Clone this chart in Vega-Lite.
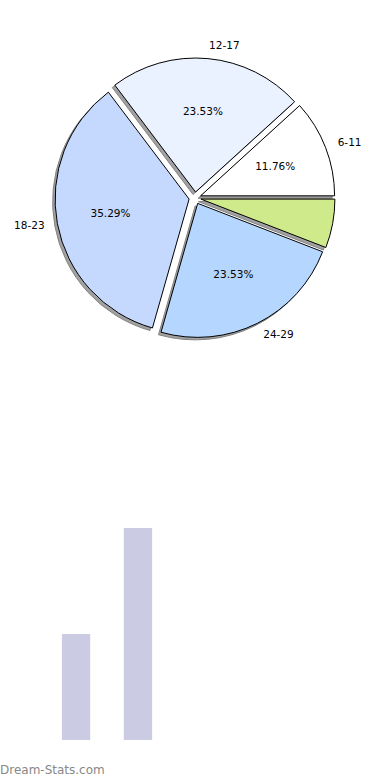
{
  "$schema": "https://vega.github.io/schema/vega-lite/v6.json",
  "padding": 0,
  "spacing": 132,
  "config": {"view": {"stroke": null}, "font": "DejaVu Sans"},
  "vconcat": [
    {
      "width": 390,
      "height": 396,
      "data": {"values": [
        {"age": "6-11", "count": 2, "pct": "11.76%", "i": 1},
        {"age": "12-17", "count": 4, "pct": "23.53%", "i": 2},
        {"age": "18-23", "count": 6, "pct": "35.29%", "i": 3},
        {"age": "24-29", "count": 4, "pct": "23.53%", "i": 4},
        {"age": "other", "count": 1, "pct": "", "i": 5}
      ]},
      "encoding": {
        "theta": {"field": "count", "type": "quantitative", "stack": true, "scale": {"range": [1.5708, -4.7124]}},
        "order": {"field": "i", "type": "quantitative"}
      },
      "layer": [
        {
          "mark": {"type": "arc", "outerRadius": 134, "fill": "#8a8a8a", "stroke": "#666", "strokeWidth": 1, "opacity": 0.8,
            "x": {"expr": "concat_0_width/2 - 2.5 + 6*cos(PI*(datum.count_start+datum.count_end)/17)"},
            "y": {"expr": "concat_0_height/2 + 2.5 - 6*sin(PI*(datum.count_start+datum.count_end)/17)"}},
          "encoding": {"detail": {"field": "age"}}
        },
        {
          "mark": {"type": "arc", "outerRadius": 134, "stroke": "#000", "strokeWidth": 1,
            "x": {"expr": "concat_0_width/2 + 6*cos(PI*(datum.count_start+datum.count_end)/17)"},
            "y": {"expr": "concat_0_height/2 - 6*sin(PI*(datum.count_start+datum.count_end)/17)"}},
          "encoding": {
            "color": {"field": "age", "type": "nominal", "legend": null,
              "scale": {"domain": ["6-11", "12-17", "18-23", "24-29", "other"],
                        "range": ["#ffffff", "#eaf1ff", "#c5d9ff", "#b5d7ff", "#cfea8b"]}}
          }
        },
        {
          "transform": [{"filter": "datum.age != 'other'"}],
          "mark": {"type": "text", "radius": 147, "fontSize": 10.5, "color": "#000",
            "align": {"expr": "cos(PI*(datum.count_start+datum.count_end)/17) >= 0 ? 'left' : 'right'"},
            "x": {"expr": "concat_0_width/2 + 6*cos(PI*(datum.count_start+datum.count_end)/17)"},
            "y": {"expr": "concat_0_height/2 - 6*sin(PI*(datum.count_start+datum.count_end)/17)"}},
          "encoding": {"text": {"field": "age"}, "detail": {"field": "age"}}
        },
        {
          "transform": [{"filter": "datum.age != 'other'"}],
          "mark": {"type": "text", "radius": 80, "fontSize": 10.5, "color": "#000",
            "x": {"expr": "concat_0_width/2 + 6*cos(PI*(datum.count_start+datum.count_end)/17)"},
            "y": {"expr": "concat_0_height/2 - 6*sin(PI*(datum.count_start+datum.count_end)/17)"}},
          "encoding": {"text": {"field": "pct"}, "detail": {"field": "age"}}
        }
      ]
    },
    {
      "width": 214,
      "height": 212,
      "data": {"values": [
        {"cat": "A", "n": 1},
        {"cat": "B", "n": 2}
      ]},
      "mark": {"type": "bar", "color": "#cbcce4"},
      "encoding": {
        "x": {"field": "cat", "type": "nominal", "axis": null, "scale": {"paddingInner": 0.5424, "paddingOuter": 1.085}},
        "y": {"field": "n", "type": "quantitative", "axis": null, "scale": {"domain": [0, 2]}}
      },
      "title": {"text": "Dream-Stats.com", "orient": "bottom", "anchor": "start", "frame": "group", "fontSize": 12, "fontWeight": "normal", "color": "#888888", "baseline": "top", "offset": 25}
    }
  ]
}
